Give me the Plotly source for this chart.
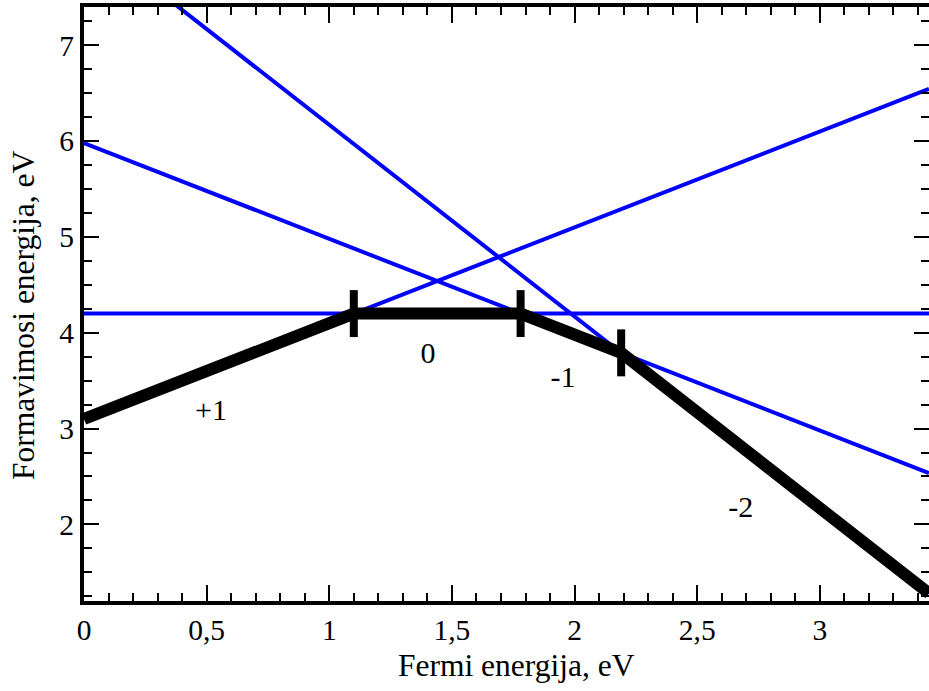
import plotly.graph_objects as go

# Data: formation energy lines E_q(x) = intercept + q * x
charges = [1, 0, -1, -2]
intercepts = [3.1, 4.2, 5.98, 8.17]
charge_labels = ["+1", "0", "-1", "-2"]
label_x = [0.518, 1.402, 1.953, 2.678]
label_y = [3.17, 3.76, 3.51, 2.16]

x_min, x_max = 0.0, 3.445
y_min, y_max = 1.2, 7.4
bar_half = 0.245

FONT = "Liberation Serif, Times New Roman, serif"

fig = go.Figure()

# blue lines
for q, b in zip(charges, intercepts):
    fig.add_trace(go.Scatter(
        x=[x_min, x_max], y=[b + q * x_min, b + q * x_max],
        mode="lines", line=dict(color="#0000FF", width=4),
        hoverinfo="skip", showlegend=False))

# lower envelope (transitions between consecutive charge states)
tx = []
for i in range(len(charges) - 1):
    q1, b1 = charges[i], intercepts[i]
    q2, b2 = charges[i + 1], intercepts[i + 1]
    tx.append((b2 - b1) / (q1 - q2))
ty = [intercepts[i] + charges[i] * t for i, t in enumerate(tx)]

env_x = [x_min] + tx + [x_max]
env_y = [intercepts[0] + charges[0] * x_min] + ty + [intercepts[-1] + charges[-1] * x_max]
fig.add_trace(go.Scatter(
    x=env_x, y=env_y, mode="lines",
    line=dict(color="black", width=12), hoverinfo="skip", showlegend=False))

# transition bars
bx, by = [], []
for t, v in zip(tx, ty):
    bx += [t, t, None]
    by += [v - bar_half, v + bar_half, None]
fig.add_trace(go.Scatter(
    x=bx, y=by, mode="lines", line=dict(color="black", width=8),
    hoverinfo="skip", showlegend=False))

# charge labels
fig.add_trace(go.Scatter(
    x=label_x, y=label_y, mode="text", text=charge_labels,
    textfont=dict(family=FONT, size=30, color="black"),
    hoverinfo="skip", showlegend=False))

# invisible trace for right-side tick axis
fig.add_trace(go.Scatter(x=[x_min], y=[y_min], yaxis="y2", mode="markers",
                         marker=dict(opacity=0), hoverinfo="skip", showlegend=False))

fig.update_layout(
    width=929, height=691,
    margin=dict(l=84, r=0, t=7, b=90),
    paper_bgcolor="white", plot_bgcolor="white",
    separators=", ",
    font=dict(family=FONT, size=29.5, color="black"),
    xaxis=dict(
        range=[x_min, x_max], dtick=0.5, tick0=0,
        ticks="inside", ticklen=16, tickwidth=2, tickcolor="black",
        showline=True, linecolor="black", linewidth=4, mirror="ticks",
        showgrid=False, zeroline=False,
        tickfont=dict(family=FONT, size=29.5),
        minor=dict(dtick=0.1, tick0=0, ticks="inside", ticklen=8, tickwidth=2, tickcolor="black"),
    ),
    yaxis=dict(
        range=[y_min, y_max], dtick=1, tick0=0,
        ticks="inside", ticklen=15, tickwidth=2, tickcolor="black",
        showline=True, linecolor="black", linewidth=4,
        showgrid=False, zeroline=False,
        tickfont=dict(family=FONT, size=29.5),
        minor=dict(dtick=0.25, tick0=0, ticks="inside", ticklen=8, tickwidth=2, tickcolor="black"),
    ),
    yaxis2=dict(
        range=[y_min, y_max], dtick=1, tick0=0, overlaying="y", side="right",
        ticks="inside", ticklen=15, tickwidth=2, tickcolor="black",
        showline=False, showgrid=False, zeroline=False, showticklabels=False,
        minor=dict(dtick=0.25, tick0=0, ticks="inside", ticklen=8, tickwidth=2, tickcolor="black"),
    ),
    annotations=[
        dict(text="Fermi energija, eV", xref="paper", yref="paper",
             x=(516 - 84) / 845, y=-(665 - 601) / 594, xanchor="center", yanchor="middle",
             showarrow=False, font=dict(family=FONT, size=31.5, color="black")),
        dict(text="Formavimosi energija, eV", xref="paper", yref="paper",
             x=-(84 - 23) / 845, y=(601 - 316) / 594, xanchor="center", yanchor="middle",
             textangle=-90, showarrow=False, font=dict(family=FONT, size=31.5, color="black")),
    ],
)

fig.write_html("out.html")
